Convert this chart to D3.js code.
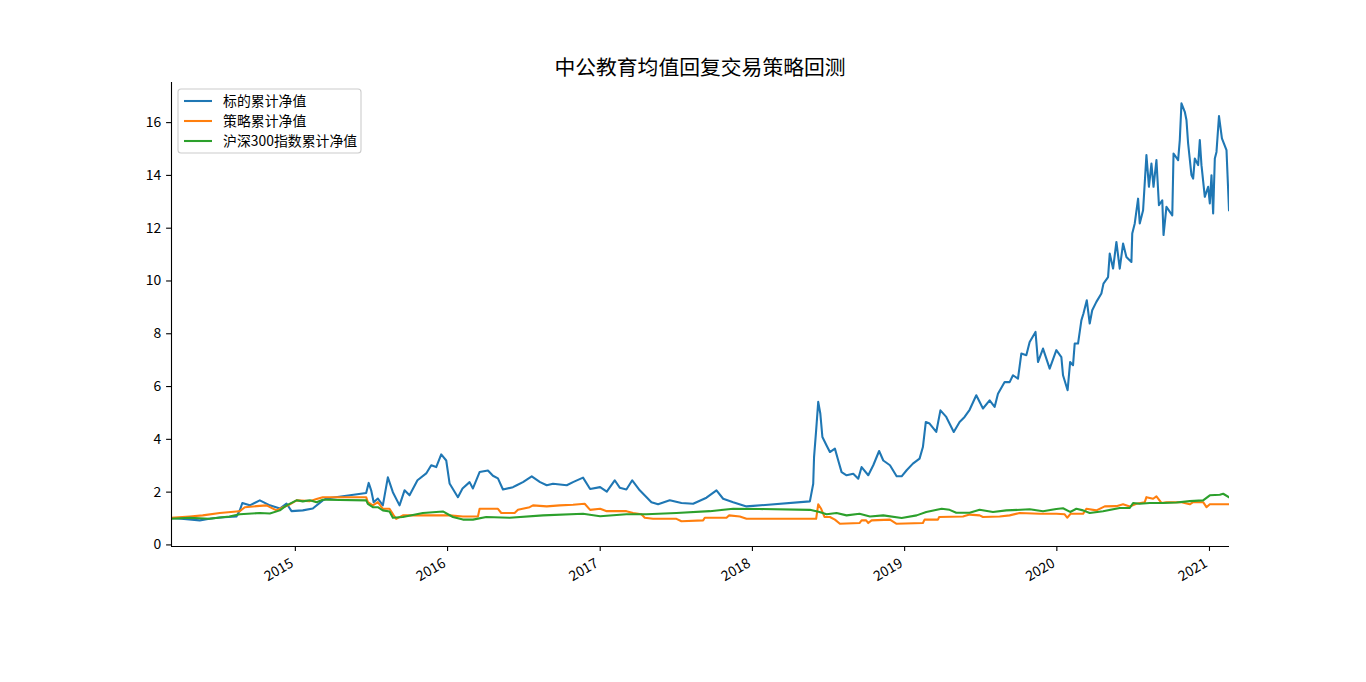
<!DOCTYPE html>
<html>
<head>
<meta charset="utf-8">
<script src="https://cdn.jsdelivr.net/npm/d3@7"></script>
<style>
  body { margin: 0; background: #fff; }
  text { font-family: "Noto Sans CJK SC", "DejaVu Sans", sans-serif; fill: #000; }
</style>
</head>
<body>
<script>
// chart title and legend labels
const chartTitle = '中公教育均值回复交易策略回测';
const seriesNames = ['标的累计净值', '策略累计净值', '沪深300指数累计净值'];
const seriesColors = ['#1f77b4', '#ff7f0e', '#2ca02c'];

// axis ticks
const yTicks = [0, 2, 4, 6, 8, 10, 12, 14, 16];
const xTickYears = ['2015', '2016', '2017', '2018', '2019', '2020', '2021'];
const xRange = ['2014-03-10', '2021-02-18'];
const yRange = [-0.06, 17.52];

// 标的累计净值
const stockNav = [
  ['2014-03-10', 1.00], ['2014-04-10', 0.96], ['2014-05-18', 0.91], ['2014-06-10', 0.97],
  ['2014-07-05', 1.02], ['2014-08-14', 1.06], ['2014-08-22', 1.29], ['2014-08-28', 1.57],
  ['2014-09-15', 1.48], ['2014-10-09', 1.67], ['2014-11-02', 1.48], ['2014-11-26', 1.36],
  ['2014-12-12', 1.55], ['2014-12-24', 1.26], ['2015-01-20', 1.29], ['2015-02-13', 1.36],
  ['2015-03-09', 1.67], ['2015-03-18', 1.74], ['2015-06-21', 1.95], ['2015-06-27', 2.33],
  ['2015-07-03', 2.05], ['2015-07-09', 1.60], ['2015-07-19', 1.74], ['2015-07-31', 1.48],
  ['2015-08-12', 2.54], ['2015-08-24', 1.98], ['2015-09-09', 1.48], ['2015-09-21', 2.05],
  ['2015-10-03', 1.86], ['2015-10-22', 2.43], ['2015-11-12', 2.69], ['2015-11-24', 3.00],
  ['2015-12-06', 2.93], ['2015-12-18', 3.41], ['2015-12-30', 3.18], ['2016-01-07', 2.31],
  ['2016-01-27', 1.79], ['2016-02-07', 2.12], ['2016-02-24', 2.36], ['2016-03-03', 2.12],
  ['2016-03-19', 2.74], ['2016-04-08', 2.80], ['2016-04-20', 2.60], ['2016-05-02', 2.50],
  ['2016-05-14', 2.08], ['2016-06-07', 2.17], ['2016-06-16', 2.24], ['2016-07-01', 2.36],
  ['2016-07-22', 2.58], ['2016-08-11', 2.36], ['2016-08-27', 2.24], ['2016-09-11', 2.30],
  ['2016-10-14', 2.24], ['2016-10-29', 2.36], ['2016-11-22', 2.53], ['2016-12-09', 2.10],
  ['2017-01-02', 2.17], ['2017-01-18', 2.00], ['2017-02-06', 2.43], ['2017-02-18', 2.15],
  ['2017-03-06', 2.08], ['2017-03-20', 2.43], ['2017-04-07', 2.05], ['2017-05-05', 1.60],
  ['2017-05-21', 1.52], ['2017-06-18', 1.67], ['2017-07-16', 1.57], ['2017-08-13', 1.54],
  ['2017-09-14', 1.77], ['2017-10-08', 2.05], ['2017-10-24', 1.73], ['2017-11-17', 1.60],
  ['2017-12-19', 1.44], ['2018-01-04', 1.46], ['2018-05-20', 1.63], ['2018-05-28', 2.30],
  ['2018-05-30', 3.31], ['2018-06-04', 4.32], ['2018-06-09', 5.40], ['2018-06-14', 4.96],
  ['2018-06-19', 4.07], ['2018-06-29', 3.75], ['2018-07-07', 3.50], ['2018-07-19', 3.63],
  ['2018-07-27', 3.18], ['2018-08-04', 2.74], ['2018-08-16', 2.62], ['2018-09-01', 2.68],
  ['2018-09-13', 2.49], ['2018-09-21', 2.93], ['2018-10-07', 2.62], ['2018-10-19', 3.00],
  ['2018-11-02', 3.54], ['2018-11-12', 3.18], ['2018-11-28', 3.00], ['2018-12-14', 2.58],
  ['2018-12-26', 2.58], ['2019-01-07', 2.81], ['2019-01-22', 3.06], ['2019-02-07', 3.25],
  ['2019-02-15', 3.69], ['2019-02-22', 4.64], ['2019-03-03', 4.58], ['2019-03-19', 4.26],
  ['2019-03-29', 5.08], ['2019-04-12', 4.83], ['2019-04-30', 4.26], ['2019-05-14', 4.64],
  ['2019-05-26', 4.83], ['2019-06-07', 5.10], ['2019-06-23', 5.65], ['2019-07-09', 5.15],
  ['2019-07-25', 5.46], ['2019-08-06', 5.21], ['2019-08-14', 5.71], ['2019-08-30', 6.15],
  ['2019-09-11', 6.15], ['2019-09-19', 6.41], ['2019-10-01', 6.28], ['2019-10-09', 7.23],
  ['2019-10-21', 7.17], ['2019-10-29', 7.67], ['2019-11-12', 8.05], ['2019-11-18', 6.91],
  ['2019-11-30', 7.42], ['2019-12-16', 6.66], ['2020-01-01', 7.36], ['2020-01-13', 7.10],
  ['2020-01-17', 6.41], ['2020-01-28', 5.84], ['2020-02-03', 6.91], ['2020-02-10', 6.79],
  ['2020-02-14', 7.61], ['2020-02-22', 7.61], ['2020-03-01', 8.49], ['2020-03-06', 8.75],
  ['2020-03-14', 9.25], ['2020-03-21', 8.37], ['2020-03-27', 8.87], ['2020-04-06', 9.19],
  ['2020-04-18', 9.51], ['2020-04-23', 9.88], ['2020-05-04', 10.13], ['2020-05-08', 11.02],
  ['2020-05-16', 10.45], ['2020-05-24', 11.46], ['2020-06-01', 10.45], ['2020-06-09', 11.40],
  ['2020-06-17', 10.89], ['2020-06-29', 10.70], ['2020-07-01', 11.78], ['2020-07-07', 12.16],
  ['2020-07-15', 13.10], ['2020-07-19', 12.16], ['2020-07-27', 12.66], ['2020-08-04', 14.75],
  ['2020-08-10', 13.55], ['2020-08-16', 14.43], ['2020-08-21', 13.55], ['2020-08-28', 14.56],
  ['2020-09-03', 12.85], ['2020-09-11', 13.04], ['2020-09-14', 11.72], ['2020-09-21', 12.79],
  ['2020-10-05', 12.47], ['2020-10-08', 14.81], ['2020-10-19', 14.56], ['2020-10-23', 15.32],
  ['2020-10-27', 16.71], ['2020-11-04', 16.39], ['2020-11-08', 16.08], ['2020-11-12', 15.19],
  ['2020-11-20', 13.99], ['2020-11-24', 13.86], ['2020-11-28', 14.62], ['2020-12-06', 14.37],
  ['2020-12-10', 15.32], ['2020-12-14', 14.37], ['2020-12-22', 13.17], ['2020-12-30', 13.55],
  ['2021-01-03', 12.92], ['2021-01-07', 13.99], ['2021-01-11', 12.54], ['2021-01-15', 14.62],
  ['2021-01-19', 14.87], ['2021-01-25', 16.23], ['2021-02-01', 15.38], ['2021-02-12', 14.94],
  ['2021-02-18', 12.66]
];

// 策略累计净值
const strategyNav = [
  ['2014-03-10', 1.01], ['2014-04-24', 1.06], ['2014-05-25', 1.10], ['2014-07-05', 1.19],
  ['2014-08-14', 1.25], ['2014-08-22', 1.26], ['2014-09-03', 1.41], ['2014-10-01', 1.45],
  ['2014-10-25', 1.48], ['2014-11-18', 1.29], ['2014-12-04', 1.41], ['2014-12-16', 1.48],
  ['2015-01-05', 1.67], ['2015-02-06', 1.64], ['2015-02-22', 1.72], ['2015-03-09', 1.79],
  ['2015-03-18', 1.79], ['2015-06-21', 1.79], ['2015-06-25', 1.60], ['2015-07-07', 1.48],
  ['2015-07-19', 1.60], ['2015-07-31', 1.35], ['2015-08-16', 1.35], ['2015-08-26', 1.10],
  ['2015-09-01', 0.97], ['2015-09-17', 1.10], ['2015-12-06', 1.10], ['2016-01-07', 1.10],
  ['2016-02-08', 1.06], ['2016-03-15', 1.06], ['2016-03-19', 1.35], ['2016-05-02', 1.35],
  ['2016-05-10', 1.19], ['2016-06-11', 1.19], ['2016-06-19', 1.31], ['2016-07-17', 1.41],
  ['2016-07-25', 1.48], ['2016-08-27', 1.44], ['2016-09-27', 1.48], ['2016-10-29', 1.50],
  ['2016-11-26', 1.54], ['2016-12-09', 1.31], ['2017-01-02', 1.35], ['2017-01-18', 1.26],
  ['2017-03-06', 1.26], ['2017-03-22', 1.19], ['2017-04-11', 1.14], ['2017-04-19', 1.01],
  ['2017-05-09', 0.97], ['2017-07-04', 0.97], ['2017-07-16', 0.88], ['2017-09-06', 0.91],
  ['2017-09-10', 1.01], ['2017-11-01', 1.01], ['2017-11-07', 1.10], ['2017-12-03', 1.06],
  ['2017-12-19', 0.97], ['2018-06-04', 0.97], ['2018-06-09', 1.52], ['2018-06-16', 1.35],
  ['2018-06-24', 1.04], ['2018-07-07', 1.04], ['2018-07-19', 0.94], ['2018-07-31', 0.78],
  ['2018-09-16', 0.81], ['2018-09-21', 0.91], ['2018-10-02', 0.91], ['2018-10-07', 0.81],
  ['2018-10-15', 0.91], ['2018-11-28', 0.94], ['2018-12-14', 0.78], ['2019-02-15', 0.81],
  ['2019-02-19', 0.94], ['2019-03-23', 0.94], ['2019-03-26', 1.04], ['2019-05-22', 1.06],
  ['2019-06-07', 1.13], ['2019-07-01', 1.10], ['2019-07-09', 1.04], ['2019-08-18', 1.06],
  ['2019-09-11', 1.10], ['2019-10-05', 1.19], ['2019-11-22', 1.16], ['2020-01-01', 1.16],
  ['2020-01-21', 1.14], ['2020-01-27', 1.01], ['2020-02-04', 1.16], ['2020-03-05', 1.16],
  ['2020-03-13', 1.35], ['2020-04-06', 1.29], ['2020-04-26', 1.44], ['2020-05-24', 1.45],
  ['2020-06-09', 1.52], ['2020-06-25', 1.44], ['2020-07-11', 1.54], ['2020-07-31', 1.60],
  ['2020-08-04', 1.79], ['2020-08-20', 1.73], ['2020-08-28', 1.82], ['2020-09-09', 1.57],
  ['2020-09-21', 1.60], ['2020-10-27', 1.60], ['2020-11-16', 1.52], ['2020-11-24', 1.60],
  ['2020-12-18', 1.60], ['2020-12-26', 1.41], ['2021-01-03', 1.52], ['2021-02-18', 1.52]
];

// 沪深300指数累计净值
const hs300Nav = [
  ['2014-03-10', 0.97], ['2014-04-24', 1.01], ['2014-06-10', 0.97], ['2014-07-28', 1.06],
  ['2014-08-22', 1.14], ['2014-10-09', 1.19], ['2014-11-02', 1.17], ['2014-11-26', 1.29],
  ['2014-12-12', 1.48], ['2015-01-05', 1.67], ['2015-01-20', 1.63], ['2015-02-06', 1.67],
  ['2015-02-22', 1.60], ['2015-03-09', 1.69], ['2015-03-18', 1.69], ['2015-06-21', 1.67],
  ['2015-06-25', 1.54], ['2015-07-07', 1.41], ['2015-07-19', 1.41], ['2015-07-31', 1.29],
  ['2015-08-16', 1.25], ['2015-08-24', 1.01], ['2015-09-17', 1.04], ['2015-11-04', 1.19],
  ['2015-12-22', 1.25], ['2016-01-15', 1.04], ['2016-02-08', 0.94], ['2016-03-03', 0.94],
  ['2016-04-04', 1.04], ['2016-05-30', 1.01], ['2016-08-18', 1.10], ['2016-11-22', 1.16],
  ['2017-01-02', 1.07], ['2017-03-06', 1.14], ['2017-04-23', 1.14], ['2017-07-04', 1.19],
  ['2017-09-22', 1.26], ['2017-11-17', 1.35], ['2018-01-20', 1.34], ['2018-05-20', 1.31],
  ['2018-06-12', 1.23], ['2018-06-29', 1.14], ['2018-07-23', 1.19], ['2018-08-16', 1.10],
  ['2018-09-16', 1.16], ['2018-10-11', 1.06], ['2018-11-12', 1.10], ['2018-12-26', 1.00],
  ['2019-01-31', 1.10], ['2019-02-23', 1.23], ['2019-04-01', 1.35], ['2019-04-20', 1.31],
  ['2019-05-06', 1.20], ['2019-06-07', 1.20], ['2019-07-01', 1.31], ['2019-08-02', 1.23],
  ['2019-09-03', 1.29], ['2019-10-29', 1.33], ['2019-11-30', 1.26], ['2020-01-01', 1.34],
  ['2020-01-17', 1.37], ['2020-02-03', 1.23], ['2020-02-18', 1.35], ['2020-03-05', 1.29],
  ['2020-03-21', 1.19], ['2020-04-22', 1.26], ['2020-06-01', 1.38], ['2020-06-25', 1.38],
  ['2020-07-03', 1.57], ['2020-07-19', 1.54], ['2020-08-12', 1.57], ['2020-09-13', 1.57],
  ['2020-10-15', 1.59], ['2020-11-16', 1.64], ['2020-12-18', 1.67], ['2021-01-03', 1.86],
  ['2021-01-27', 1.88], ['2021-02-04', 1.92], ['2021-02-18', 1.79]
];

const allSeries = [stockNav, strategyNav, hs300Nav];

const width = 1366, height = 682;
const margin = { top: 82, right: 137, bottom: 136, left: 171 };
const parseDate = d3.timeParse('%Y-%m-%d');

const svg = d3.select('body').append('svg')
    .attr('width', width)
    .attr('height', height);

const x = d3.scaleTime()
    .domain(xRange.map(parseDate))
    .range([margin.left, width - margin.right]);

const y = d3.scaleLinear()
    .domain(yRange)
    .range([height - margin.bottom, margin.top]);

svg.append('clipPath').attr('id', 'plot-clip')
  .append('rect')
    .attr('x', margin.left)
    .attr('y', margin.top)
    .attr('width', width - margin.left - margin.right)
    .attr('height', height - margin.top - margin.bottom);

// lines
const line = d3.line()
    .x(d => x(parseDate(d[0])))
    .y(d => y(d[1]));

svg.append('g')
    .attr('clip-path', 'url(#plot-clip)')
  .selectAll('path')
    .data(allSeries)
    .enter()
  .append('path')
    .attr('d', line)
    .attr('fill', 'none')
    .attr('stroke', (d, i) => seriesColors[i])
    .attr('stroke-width', 2.08)
    .attr('stroke-linejoin', 'round')
    .attr('stroke-linecap', 'square');

// y axis (left spine only)
const yAxis = svg.append('g')
    .attr('transform', `translate(${margin.left},0)`)
    .call(d3.axisLeft(y).tickValues(yTicks).tickSize(4.9).tickPadding(4.9).tickFormat(d3.format('d')));
yAxis.select('.domain')
    .attr('d', `M0.5,${height - margin.bottom}V${margin.top}`)
    .attr('stroke-width', 1.1);
yAxis.selectAll('.tick line').attr('stroke-width', 1.1);
yAxis.selectAll('.tick text')
    .style('font-size', '13.9px')
    .style('font-family', '"Noto Sans CJK SC", sans-serif');

// x axis (bottom spine, rotated year labels)
const xAxis = svg.append('g')
    .attr('transform', `translate(0,${height - margin.bottom})`)
    .call(d3.axisBottom(x)
        .tickValues(xTickYears.map(s => parseDate(s + '-01-01')))
        .tickSize(4.9)
        .tickFormat(d3.timeFormat('%Y')));
xAxis.select('.domain')
    .attr('d', `M${margin.left},0.5H${width - margin.right}`)
    .attr('stroke-width', 1.1);
xAxis.selectAll('.tick line').attr('stroke-width', 1.1);
xAxis.selectAll('.tick text')
    .style('font-size', '13.9px')
    .style('font-family', '"Noto Sans CJK SC", sans-serif')
    .attr('text-anchor', 'end')
    .attr('y', 0)
    .attr('dy', 0)
    .attr('transform', 'translate(-1,20) rotate(-30)');

// title
svg.append('text')
    .attr('x', (margin.left + width - margin.right) / 2)
    .attr('y', 75)
    .attr('text-anchor', 'middle')
    .style('font-size', '20.8px')
    .text(chartTitle);

// legend
const legend = svg.append('g').attr('transform', 'translate(178,89)');
legend.append('rect')
    .attr('width', 183)
    .attr('height', 64)
    .attr('rx', 3)
    .attr('fill', 'white')
    .attr('fill-opacity', 0.8)
    .attr('stroke', '#cccccc')
    .attr('stroke-width', 1.1);

const entries = legend.selectAll('g.entry')
    .data(seriesNames)
    .enter()
  .append('g')
    .attr('class', 'entry')
    .attr('transform', (d, i) => `translate(0,${12 + i * 20})`);

entries.append('line')
    .attr('x1', 6)
    .attr('x2', 34)
    .attr('stroke', (d, i) => seriesColors[i])
    .attr('stroke-width', 2.08);

entries.append('text')
    .attr('x', 45)
    .attr('dy', '0.35em')
    .style('font-size', '13.9px')
    .text(d => d);
</script>
</body>
</html>
